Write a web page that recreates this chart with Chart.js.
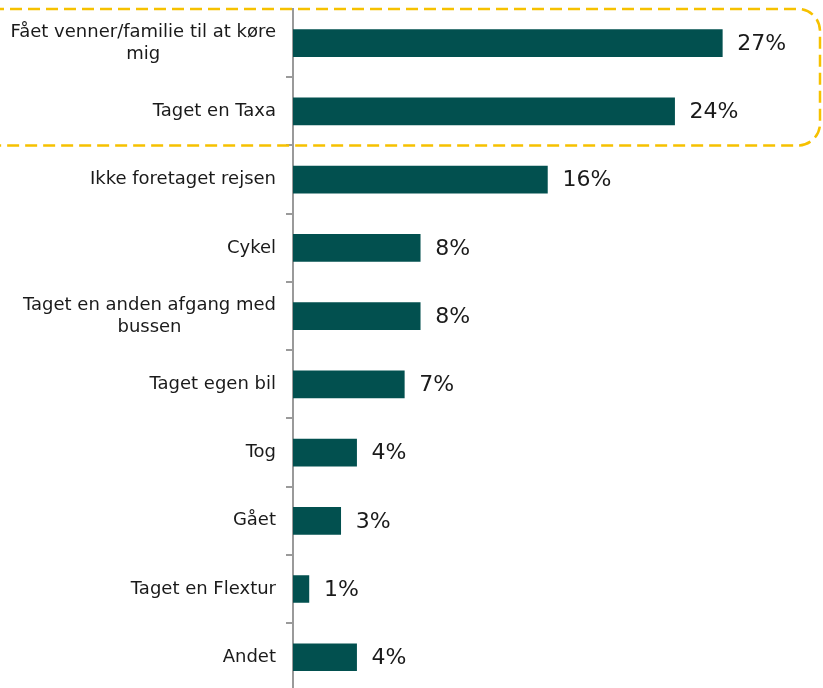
<!DOCTYPE html>
<html>
<head>
<meta charset="utf-8">
<script src="https://cdn.jsdelivr.net/npm/chart.js@4/dist/chart.umd.min.js"></script>
<style>
  html, body { margin: 0; padding: 0; background: #fff; overflow: hidden; }
  #wrap { width: 823px; height: 688px; overflow: hidden; }
</style>
</head>
<body>
<div id="wrap"><canvas id="chart1" width="823" height="695"></canvas></div>
<script>
const categories = [
  ['Fået venner/familie til at køre', 'mig'],
  ['Taget en Taxa'],
  ['Ikke foretaget rejsen'],
  ['Cykel'],
  ['Taget en anden afgang med', 'bussen'],
  ['Taget egen bil'],
  ['Tog'],
  ['Gået'],
  ['Taget en Flextur'],
  ['Andet']
];
const shares = [27, 24, 16, 8, 8, 7, 4, 3, 1, 4];
const highlighted = [0, 1]; // rows inside the dashed frame

const labelFont = '18px "DejaVu Sans"';
const valueFont = '22px "DejaVu Sans"';

// category labels, right-aligned block with centred lines
const categoryLabels = {
  id: 'categoryLabels',
  afterDraw(chart) {
    const c = chart.ctx;
    const y = chart.scales.y;
    c.save();
    c.font = labelFont;
    c.fillStyle = '#1a1a1a';
    c.textBaseline = 'middle';
    c.textAlign = 'center';
    categories.forEach((lines, i) => {
      const cy = y.getPixelForValue(i);
      const w = Math.max(...lines.map(l => c.measureText(l).width));
      const cx = 276 - w / 2;
      const lh = 22;
      lines.forEach((l, k) => {
        c.fillText(l, cx, cy + (k - (lines.length - 1) / 2) * lh);
      });
    });
    c.restore();
  }
};

// percentage at the end of each bar
const valueLabels = {
  id: 'valueLabels',
  afterDatasetsDraw(chart) {
    const c = chart.ctx;
    const meta = chart.getDatasetMeta(0);
    c.save();
    c.font = valueFont;
    c.fillStyle = '#1a1a1a';
    c.textBaseline = 'middle';
    c.textAlign = 'left';
    meta.data.forEach((bar, i) => {
      c.fillText(shares[i] + '%', bar.x + 15, bar.y + 1);
    });
    c.restore();
  }
};

// dashed rounded frame around the top rows
const frame = {
  id: 'frame',
  afterDraw(chart) {
    const c = chart.ctx;
    const y = chart.scales.y;
    const band = y.getPixelForValue(1) - y.getPixelForValue(0);
    const top = y.getPixelForValue(highlighted[0]) - band / 2;
    const bottom = y.getPixelForValue(highlighted[highlighted.length - 1]) + band / 2;
    c.save();
    c.strokeStyle = '#f6c100';
    c.lineWidth = 2.5;
    c.setLineDash([12, 6]);
    c.beginPath();
    c.roundRect(-30, top, 850, bottom - top, 22);
    c.stroke();
    c.restore();
  }
};

new Chart(document.getElementById('chart1'), {
  type: 'bar',
  data: {
    labels: categories.map(l => l.join(' ')),
    datasets: [{
      data: shares,
      backgroundColor: '#02504f',
      borderWidth: 0,
      barThickness: 27
    }]
  },
  options: {
    indexAxis: 'y',
    responsive: false,
    animation: false,
    layout: { padding: { top: 9, right: 53, bottom: 0, left: 0 } },
    scales: {
      x: { display: false, min: 0, max: 30 },
      y: {
        afterFit(scale) { scale.width = 293; },
        grid: {
          drawOnChartArea: false,
          offset: true,
          tickLength: 7,
          color: '#9a9a9a',
          lineWidth: 2
        },
        border: { display: true, color: '#9a9a9a', width: 2 },
        ticks: { color: 'transparent', font: { size: 1 } }
      }
    },
    plugins: {
      legend: { display: false },
      tooltip: { enabled: false }
    }
  },
  plugins: [categoryLabels, valueLabels, frame]
});
</script>
</body>
</html>
